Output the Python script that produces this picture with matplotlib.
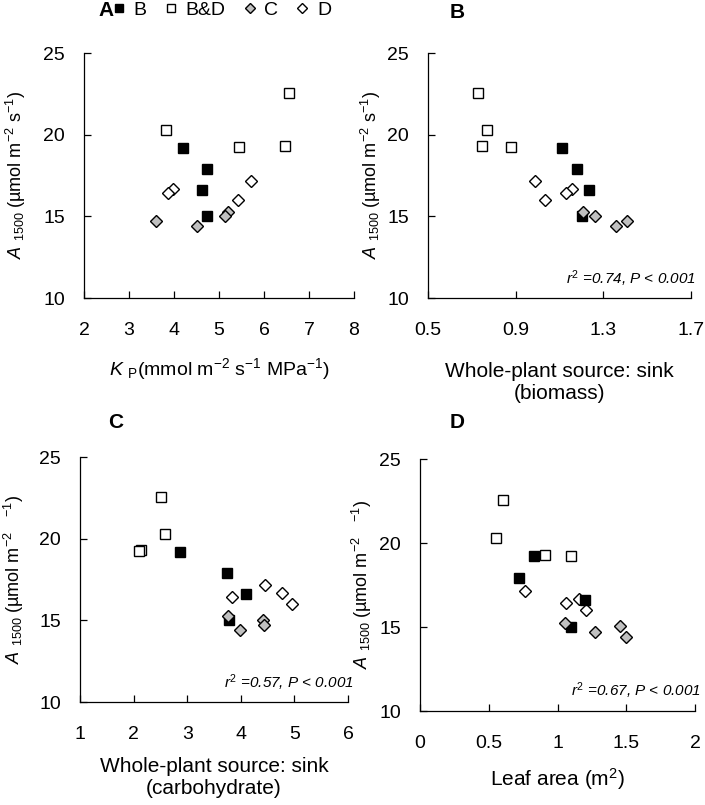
import matplotlib
matplotlib.use("Agg")
import matplotlib.pyplot as plt
from matplotlib.lines import Line2D

plt.rcParams['font.family'] = ['Liberation Sans', 'DejaVu Sans']
plt.rcParams['mathtext.fontset'] = 'custom'
plt.rcParams['mathtext.rm'] = 'Liberation Sans'
plt.rcParams['mathtext.it'] = 'Liberation Sans:italic'

# A1500 values per group (same plants in every panel)
bd_y = [22.55, 20.3, 19.3, 19.25]
b_y = [19.2, 17.9, 16.6, 15.0]
c_y = [15.25, 15.05, 14.7, 14.4]
d_y = [17.15, 16.65, 16.45, 16.0]

# panel A: Kp
kp_bd = [6.55, 3.82, 6.46, 5.45]
kp_b = [4.2, 4.73, 4.63, 4.73]
kp_c = [5.19, 5.13, 3.6, 4.51]
kp_d = [5.71, 3.98, 3.86, 5.43]

# panel B: source:sink (biomass)
bio_bd = [0.73, 0.77, 0.745, 0.88]
bio_b = [1.11, 1.178, 1.236, 1.203]
bio_c = [1.205, 1.262, 1.406, 1.36]
bio_d = [0.99, 1.159, 1.128, 1.034]

# panel C: source:sink (carbohydrate)
carb_bd = [2.51, 2.58, 2.14, 2.10]
carb_b = [2.87, 3.74, 4.09, 3.78]
carb_c = [3.77, 4.42, 4.44, 3.98]
carb_d = [4.45, 4.77, 3.84, 4.95]

# panel D: leaf area
la_bd = [0.605, 0.55, 0.91, 1.10]
la_b = [0.83, 0.72, 1.2, 1.10]
la_c = [1.057, 1.458, 1.27, 1.497]
la_d = [0.762, 1.154, 1.06, 1.209]

group_labels = ['B', 'B&D', 'C', 'D']
stats = ['0.74', '0.57', '0.67']

W, H = 705, 805
fig = plt.figure(figsize=(W / 100, H / 100), dpi=100)


def px_axes(left, top, right, bottom):
    return fig.add_axes([left / W, 1 - bottom / H, (right - left) / W, (bottom - top) / H])


styles = {
    'B&D': dict(marker='s', ms=7.5, mfc='white', mec='black'),
    'D': dict(marker='D', ms=6.3, mfc='white', mec='black'),
    'B': dict(marker='s', ms=7.5, mfc='black', mec='black'),
    'C': dict(marker='D', ms=6.3, mfc='#c0c0c0', mec='black'),
}


def draw(ax, xs, xlim, xticks, xticklabels):
    xbd, xb, xc, xd = xs
    for g, x, y in [('B&D', xbd, bd_y), ('D', xd, d_y), ('B', xb, b_y), ('C', xc, c_y)]:
        ax.plot(x, y, linestyle='none', mew=1.0, **styles[g])
    ax.set_xlim(*xlim)
    ax.set_ylim(10, 25)
    ax.set_xticks(xticks)
    ax.set_xticklabels(xticklabels)
    ax.set_yticks([10, 15, 20, 25])
    ax.spines['top'].set_visible(False)
    ax.spines['right'].set_visible(False)
    for s in ['left', 'bottom']:
        ax.spines[s].set_linewidth(0.9)
    ax.tick_params(direction='in', length=5, width=0.9, labelsize=14)
    ax.tick_params(axis='y', pad=13.5)
    ax.tick_params(axis='x', pad=17)


def place_labels(ax, left, top, right, bottom, ylab_right, xlab_top):
    w, h = right - left, bottom - top
    ax.yaxis.set_label_coords((ylab_right - left) / w, 0.5)
    ax.xaxis.set_label_coords(0.5, (bottom - xlab_top) / h)


ylab_full = r'$\it{A}$ $_{1500}$ (µmol m$^{-2}$ s$^{-1}$)'
ylab_cut = r'$\it{A}$ $_{1500}$ (µmol m$^{-2}$   $^{-1}$)'

axA = px_axes(84, 53, 354, 298)
draw(axA, (kp_bd, kp_b, kp_c, kp_d), (2, 8), range(2, 9), [str(v) for v in range(2, 9)])
axA.set_xlabel(r'$\it{K}$ $_{\rm P}$(mmol m$^{-2}$ s$^{-1}$ MPa$^{-1}$)', fontsize=14)
axA.set_ylabel(ylab_full, fontsize=13)
place_labels(axA, 84, 53, 354, 298, 28, 356)

axB = px_axes(428, 53, 691, 298)
draw(axB, (bio_bd, bio_b, bio_c, bio_d), (0.5, 1.7), [0.5, 0.9, 1.3, 1.7], ['0.5', '0.9', '1.3', '1.7'])
axB.set_xlabel('Whole-plant source: sink\n(biomass)', fontsize=15)
axB.set_ylabel(ylab_full, fontsize=13)
place_labels(axB, 428, 53, 691, 298, 383, 362)

axC = px_axes(80, 457, 348, 702)
draw(axC, (carb_bd, carb_b, carb_c, carb_d), (1, 6), range(1, 7), [str(v) for v in range(1, 7)])
axC.set_xlabel('Whole-plant source: sink\n(carbohydrate)', fontsize=15)
axC.set_ylabel(ylab_cut, fontsize=13)
place_labels(axC, 80, 457, 348, 702, 26, 757)

axD = px_axes(420, 459, 695, 711)
draw(axD, (la_bd, la_b, la_c, la_d), (0, 2), [0, 0.5, 1, 1.5, 2], ['0', '0.5', '1', '1.5', '2'])
axD.set_xlabel(r'Leaf area (m$^{2}$)', fontsize=15)
axD.set_ylabel(ylab_cut, fontsize=13)
place_labels(axD, 420, 459, 695, 711, 374, 766)

for ax, s in zip([axB, axC, axD], stats):
    ax.text(1.02, 0.08, r'$r^{2}$ =' + s + ', P < 0.001', transform=ax.transAxes,
            ha='right', va='center', fontsize=11, style='italic')

# panel letters
fig.text(450 / W, 1 - 13 / H, 'B', fontsize=15, fontweight='bold', va='center')
fig.text(108 / W, 1 - 423 / H, 'C', fontsize=15, fontweight='bold', va='center')
fig.text(450 / W, 1 - 423 / H, 'D', fontsize=15, fontweight='bold', va='center')
fig.text(98 / W, 1 - 10 / H, 'A', fontsize=15, fontweight='bold', va='center')

handles = [Line2D([], [], linestyle='none', mew=1.0, **dict(styles[g], ms=styles[g]['ms'] * 0.85))
           for g in group_labels]
fig.legend(handles, group_labels, loc='center left', bbox_to_anchor=(112 / W, 1 - 10 / H),
           ncol=4, frameon=False, fontsize=14, handlelength=0.7, handletextpad=0.4,
           columnspacing=0.9, borderaxespad=0, borderpad=0)

fig.savefig('out.png', dpi=100)
